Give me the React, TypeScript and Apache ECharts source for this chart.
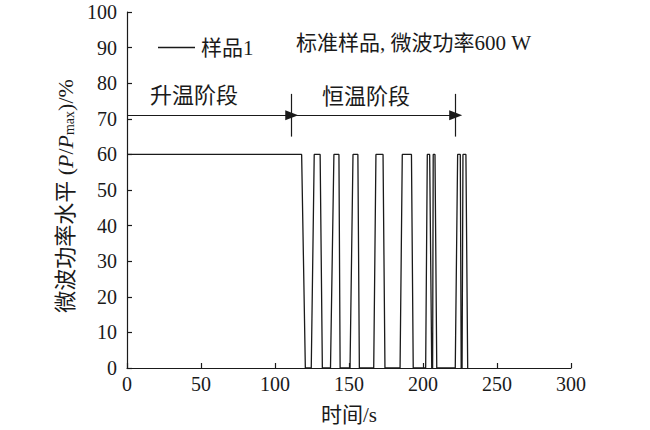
import React, { useEffect, useRef } from "react";
import * as echarts from "echarts";

// time (s) and microwave power level (% of Pmax)
const timeS = [
  0, 118, 120.5, 124.5, 126.5, 130.5, 132, 137.5, 139.8, 143.2, 144, 150.7,
  152.7, 156, 157, 166.7, 168.2, 173, 174.3, 184.5, 186, 192.2, 193.4, 201.8,
  202.9, 204.5, 205.9, 206.5, 206.9, 208.1, 209.3, 221.8, 223.4, 225.2, 225.8,
  226.4, 227, 229, 230.2,
];
const powerPct = [
  60, 60, 0, 0, 60, 60, 0, 0, 60, 60, 0, 0, 60, 60, 0, 0, 60, 60, 0, 0, 60, 60,
  0, 0, 60, 60, 0, 0, 60, 60, 0, 0, 60, 60, 0, 0, 60, 60, 0,
];

const xTicks = { min: 0, max: 300, interval: 50 };
const yTicks = { min: 0, max: 100, interval: 10 };

// phase annotation (data coordinates)
const arrowStart = 0;
const phaseEnds = [111.3, 222.1];
const arrowLevel = 71;
const barRange = [65, 77];
const phaseLabels = ["升温阶段", "恒温阶段"];
const seriesName = "样品1";
const noteText = "标准样品, 微波功率600 W";

const FONT = "'Liberation Serif', 'Times New Roman', 'Noto Sans CJK SC', serif";
const INK = "#1a1a1a";

export default function App() {
  const ref = useRef<HTMLDivElement>(null);
  useEffect(() => {
    if (!ref.current) return;
    const chart = echarts.init(ref.current, undefined, { renderer: "svg" });
    const data = timeS.map((t, i) => [t, powerPct[i]]);
    const option: any = {
      animation: false,
      grid: { left: 127, right: 79, top: 12, bottom: 60 },
      legend: {
        left: 153,
        top: 32,
        icon: "rect",
        itemWidth: 37,
        itemHeight: 1.3,
        data: [seriesName],
        textStyle: { fontFamily: FONT, fontSize: 21, color: INK, padding: [0, 0, 0, 1] },
      },
      graphic: [
        {
          type: "text",
          left: 296,
          top: 32,
          style: { text: noteText, fontFamily: FONT, fontSize: 21, fill: INK },
        },
        {
          type: "text",
          left: 150,
          top: 84,
          style: { text: phaseLabels[0], fontFamily: FONT, fontSize: 22, fill: INK },
        },
        {
          type: "text",
          left: 322,
          top: 85,
          style: { text: phaseLabels[1], fontFamily: FONT, fontSize: 22, fill: INK },
        },
      ],
      xAxis: {
        type: "value",
        min: xTicks.min,
        max: xTicks.max,
        interval: xTicks.interval,
        name: "时间/s",
        nameLocation: "middle",
        nameGap: 36,
        nameTextStyle: { fontFamily: FONT, fontSize: 21, color: INK },
        axisLine: { lineStyle: { color: INK, width: 1.2 } },
        axisTick: { inside: true, length: 5, lineStyle: { color: INK, width: 1.2 } },
        axisLabel: { fontFamily: FONT, fontSize: 20, color: INK, margin: 6 },
        splitLine: { show: false },
      },
      yAxis: {
        type: "value",
        min: yTicks.min,
        max: yTicks.max,
        interval: yTicks.interval,
        name: "微波功率水平 ({i|P}/{i|P}{s|max})/%",
        nameLocation: "middle",
        nameRotate: 90,
        nameGap: 43,
        nameTextStyle: {
          fontFamily: FONT,
          fontSize: 22,
          color: INK,
          padding: [0, 12, 0, 0],
          rich: {
            i: { fontFamily: FONT, fontSize: 22, fontStyle: "italic", color: INK },
            s: { fontFamily: FONT, fontSize: 14, color: INK, verticalAlign: "bottom", lineHeight: 14 },
          },
        },
        axisLine: { show: true, lineStyle: { color: INK, width: 1.2 } },
        axisTick: { inside: true, length: 5, lineStyle: { color: INK, width: 1.2 } },
        axisLabel: { fontFamily: FONT, fontSize: 20, color: INK, margin: 10 },
        splitLine: { show: false },
      },
      series: [
        {
          name: seriesName,
          type: "line",
          data,
          symbol: "none",
          clip: false,
          lineStyle: { color: INK, width: 1.3 },
          itemStyle: { color: INK },
          markLine: {
            silent: true,
            symbol: ["none", "triangle"],
            symbolSize: [10, 13],
            label: { show: false },
            lineStyle: { color: INK, width: 1.2, type: "solid" },
            data: [
              [{ coord: [arrowStart, arrowLevel] }, { coord: [phaseEnds[0], arrowLevel] }],
              [{ coord: [phaseEnds[0], arrowLevel] }, { coord: [phaseEnds[1], arrowLevel] }],
              [
                { coord: [phaseEnds[0], barRange[0]], symbol: "none" },
                { coord: [phaseEnds[0], barRange[1]], symbol: "none" },
              ],
              [
                { coord: [phaseEnds[1], barRange[0]], symbol: "none" },
                { coord: [phaseEnds[1], barRange[1]], symbol: "none" },
              ],
            ],
          },
        },
      ],
    };
    chart.setOption(option);
    return () => chart.dispose();
  }, []);
  return (
    <div
      ref={ref}
      style={{ position: "fixed", left: 0, top: 0, width: 650, height: 430, background: "#fff" }}
    />
  );
}
